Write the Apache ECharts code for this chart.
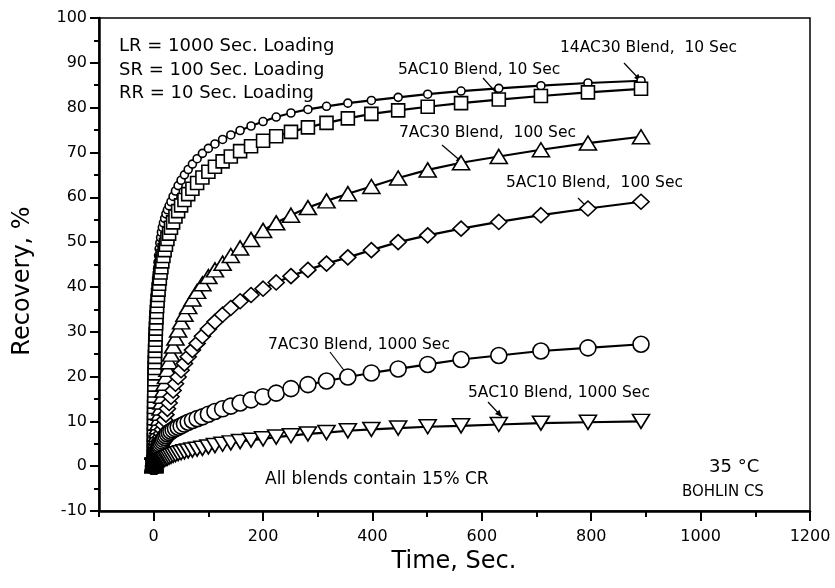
<!DOCTYPE html>
<html>
<head>
<meta charset="utf-8">
<script src="https://cdn.jsdelivr.net/npm/echarts@6/dist/echarts.min.js"></script>
<style>
html,body{margin:0;padding:0;background:#fff;}
#chart{width:835px;height:588px;}
</style>
</head>
<body>
<div id="chart"></div>
<script>
const times = [
  0.251, 0.282, 0.316, 0.355, 0.398, 0.447, 0.501, 0.562, 0.631, 0.708, 0.794, 0.891,
  1, 1.12, 1.26, 1.41, 1.58, 1.78, 2.0, 2.24, 2.51, 2.82,
  3.16, 3.55, 3.98, 4.47, 5.01, 5.62, 6.31, 7.08, 7.94, 8.91,
  10, 11.2, 12.6, 14.1, 15.8, 17.8, 20, 22.4, 25.1, 28.2,
  31.6, 35.5, 39.8, 44.7, 50.1, 56.2, 63.1, 70.8, 79.4, 89.1,
  100, 112, 126, 141, 158, 178, 200, 224, 251, 282,
  316, 355, 398, 447, 501, 562, 631, 708, 794, 891
];
// Recovery, % — 5AC10 Blend, 10 Sec (small circles)
const rr5ac10 = [
  0.5, 2.0, 3.5, 5.0, 6.5, 8.0, 9.5, 11.0, 12.5, 14.0, 15.5, 17.0,
  18.5, 20.0, 21.5, 23.0, 24.5, 26.0, 27.5, 29.0, 30.5, 32.0,
  33.5, 35.0, 36.5, 38.0, 39.5, 41.0, 42.5, 44.0, 45.5, 47.0,
  48.5, 49.8, 51.0, 52.2, 53.3, 54.3, 55.3, 56.3, 57.2, 58.1,
  59.0, 60.2, 61.4, 62.6, 63.8, 65.0, 66.2, 67.4, 68.6, 69.8,
  70.9, 71.9, 72.9, 73.9, 74.9, 75.9, 76.9, 77.9, 78.8, 79.6,
  80.3, 81.0, 81.6, 82.3, 83.0, 83.7, 84.3, 84.9, 85.5, 86.0
];
// 14AC30 Blend, 10 Sec (squares)
const rr14ac30 = [
  1.0, 2.2, 3.4, 4.6, 5.8, 7.0, 8.2, 9.5, 10.7, 11.9, 13.2, 14.4,
  15.7, 16.9, 18.2, 19.4, 20.7, 21.9, 23.2, 24.4, 25.7, 26.9,
  28.2, 29.4, 30.7, 31.9, 33.2, 34.4, 35.7, 36.9, 38.2, 39.4,
  40.7, 41.9, 43.2, 44.4, 45.7, 46.9, 48.2, 49.4, 50.7, 51.9,
  53.2, 54.4, 55.7, 56.9, 58.2, 59.4, 60.7, 61.9, 63.2, 64.4,
  65.7, 66.8, 68.0, 69.1, 70.3, 71.4, 72.6, 73.6, 74.6, 75.6,
  76.6, 77.6, 78.6, 79.4, 80.2, 81.0, 81.8, 82.6, 83.4, 84.2
];
// 7AC30 Blend, 100 Sec (triangles)
const sr7ac30 = [
  0.1, 0.1, 0.2, 0.2, 0.3, 0.3, 0.4, 0.4, 0.5, 0.6, 0.7, 0.8,
  0.9, 1.0, 1.2, 1.4, 1.6, 1.8, 2.1, 2.4, 2.7, 3.1,
  3.5, 4.0, 4.5, 5.1, 5.7, 6.4, 7.1, 7.9, 8.8, 9.7,
  10.7, 11.8, 13.0, 14.3, 15.6, 17.0, 18.5, 20.0, 21.6, 23.3,
  25.0, 26.8, 28.6, 30.4, 32.2, 33.9, 35.6, 37.3, 39.0, 40.7,
  42.3, 43.8, 45.3, 47.0, 48.7, 50.6, 52.6, 54.3, 56.0, 57.7,
  59.2, 60.8, 62.4, 64.3, 66.1, 67.7, 69.1, 70.6, 72.1, 73.5
];
// 5AC10 Blend, 100 Sec (diamonds)
const sr5ac10 = [
  0.0, 0.0, 0.1, 0.1, 0.1, 0.1, 0.2, 0.2, 0.2, 0.2, 0.3, 0.3,
  0.3, 0.4, 0.4, 0.5, 0.6, 0.7, 0.8, 0.9, 1.0, 1.2,
  1.4, 1.6, 1.8, 2.1, 2.4, 2.7, 3.1, 3.5, 4.0, 4.5,
  5.1, 5.8, 6.5, 7.3, 8.2, 9.2, 10.3, 11.5, 12.8, 14.1,
  15.5, 16.9, 18.4, 19.9, 21.4, 22.9, 24.4, 25.9, 27.4, 29.0,
  30.6, 32.2, 33.8, 35.3, 36.8, 38.2, 39.6, 41.0, 42.4, 43.8,
  45.2, 46.6, 48.2, 50.0, 51.5, 53.0, 54.5, 56.0, 57.5, 59.0
];
// 7AC30 Blend, 1000 Sec (large circles)
const lr7ac30 = [
  0.0, 0.0, 0.0, 0.1, 0.1, 0.1, 0.1, 0.1, 0.1, 0.2, 0.2, 0.2,
  0.3, 0.3, 0.4, 0.4, 0.5, 0.6, 0.7, 0.8, 0.9, 1.0,
  1.2, 1.4, 1.6, 1.8, 2.0, 2.3, 2.6, 2.9, 3.2, 3.6,
  4.0, 4.4, 4.8, 5.2, 5.6, 6.0, 6.4, 6.8, 7.2, 7.5,
  7.8, 8.1, 8.4, 8.7, 9.0, 9.4, 9.8, 10.2, 10.6, 11.0,
  11.6, 12.2, 12.8, 13.4, 14.1, 14.8, 15.5, 16.3, 17.3, 18.2,
  19.0, 19.9, 20.8, 21.7, 22.7, 23.8, 24.7, 25.7, 26.4, 27.2
];
// 5AC10 Blend, 1000 Sec (inverted triangles)
const lr5ac10 = [
  0.0, 0.0, 0.0, 0.0, 0.0, 0.1, 0.1, 0.1, 0.1, 0.1, 0.1, 0.1,
  0.2, 0.2, 0.2, 0.2, 0.2, 0.2, 0.2, 0.2, 0.2, 0.3,
  0.3, 0.3, 0.4, 0.4, 0.5, 0.5, 0.6, 0.6, 0.7, 0.8,
  0.9, 1.0, 1.1, 1.2, 1.3, 1.4, 1.5, 1.7, 1.8, 2.0,
  2.2, 2.4, 2.6, 2.8, 3.0, 3.2, 3.4, 3.6, 3.8, 4.0,
  4.3, 4.6, 4.9, 5.2, 5.5, 5.8, 6.1, 6.5, 6.8, 7.2,
  7.5, 7.9, 8.2, 8.5, 8.8, 9.0, 9.3, 9.6, 9.8, 10.0
];
const xMajorTicks = [0, 200, 400, 600, 800, 1000, 1200];
const xMinorTicks = [-100, 100, 300, 500, 700, 900, 1100];

const FONT = 'DejaVu Sans';
function pairs(vals) { return times.map((t, i) => [t, vals[i]]); }
function lineSeries(name, vals, symbol, size) {
  return {
    name: name, type: 'line', data: pairs(vals),
    symbol: symbol, symbolSize: size, showSymbol: true, showAllSymbol: true,
    lineStyle: { color: '#000', width: 2.2 },
    itemStyle: { color: '#fff', borderColor: '#000', borderWidth: 1.6 },
    emphasis: { disabled: true }, silent: true
  };
}
function label(text, x, y, size) {
  return { type: 'text', x: x, y: y, silent: true,
    style: { text: text, fill: '#000', font: size + 'px "' + FONT + '"',
      align: 'left', verticalAlign: 'middle', textAlign: 'left', textVerticalAlign: 'middle' } };
}
function arrow(x1, y1, x2, y2, head) {
  const els = [{ type: 'line', silent: true, shape: { x1: x1, y1: y1, x2: x2, y2: y2 },
    style: { stroke: '#000', lineWidth: 1.2 } }];
  if (head) {
    const a = Math.atan2(y2 - y1, x2 - x1), L = 7, W = 3;
    const bx = x2 - L * Math.cos(a), by = y2 - L * Math.sin(a);
    els.push({ type: 'polygon', silent: true, shape: { points: [[x2, y2],
      [bx + W * Math.sin(a), by - W * Math.cos(a)], [bx - W * Math.sin(a), by + W * Math.cos(a)]] },
      style: { fill: '#000' } });
  }
  return els;
}

const chart = echarts.init(document.getElementById('chart'), null, { renderer: 'canvas' });
const axisFont = { color: '#000', fontSize: 16, fontFamily: FONT };
chart.setOption({
  animation: false,
  backgroundColor: '#fff',
  grid: { left: 99, right: 25, top: 18, bottom: 77, show: true, borderColor: '#000', borderWidth: 1.5, backgroundColor: 'transparent' },
  xAxis: [{
    type: 'value', min: -100, max: 1200, position: 'bottom',
    axisLine: { show: true, onZero: false, lineStyle: { color: '#000', width: 2.5 } },
    axisTick: { show: true, customValues: xMajorTicks, length: 10, lineStyle: { color: '#000', width: 2 } },
    axisLabel: { show: true, customValues: xMajorTicks, margin: 18, formatter: (v) => String(v), ...axisFont },
    splitLine: { show: false }
  }, {
    type: 'value', min: -100, max: 1200, position: 'bottom', offset: 0,
    axisLine: { show: false, onZero: false },
    axisTick: { show: true, customValues: xMinorTicks, length: 6, lineStyle: { color: '#000', width: 2 } },
    axisLabel: { show: false },
    splitLine: { show: false }
  }],
  yAxis: {
    type: 'value', min: -10, max: 100, interval: 10,
    axisLine: { show: true, onZero: false, lineStyle: { color: '#000', width: 2.5 } },
    axisTick: { show: true, length: 9, lineStyle: { color: '#000', width: 2 } },
    minorTick: { show: true, splitNumber: 2, length: 5, lineStyle: { color: '#000', width: 2 } },
    axisLabel: { margin: 12, formatter: (v) => String(v), ...axisFont },
    splitLine: { show: false }, minorSplitLine: { show: false }
  },
  series: [
    lineSeries('5AC10 Blend, 10 Sec', rr5ac10, 'circle', 8),
    lineSeries('14AC30 Blend, 10 Sec', rr14ac30, 'rect', 13),
    lineSeries('7AC30 Blend, 100 Sec', sr7ac30, 'triangle', [17, 14]),
    lineSeries('5AC10 Blend, 100 Sec', sr5ac10, 'diamond', [16, 15]),
    lineSeries('7AC30 Blend, 1000 Sec', lr7ac30, 'circle', 16),
    lineSeries('5AC10 Blend, 1000 Sec', lr5ac10, 'path://M0,0 L10,0 L5,9 Z', [17, 14])
  ],
  graphic: [
    label('LR = 1000 Sec. Loading', 119, 46, 18),
    label('SR = 100 Sec. Loading', 119, 70, 18),
    label('RR = 10 Sec. Loading', 119, 93, 18),
    label('14AC30 Blend,  10 Sec', 560, 48, 15.5),
    label('5AC10 Blend, 10 Sec', 398, 70, 15.5),
    label('7AC30 Blend,  100 Sec', 399, 133, 15.5),
    label('5AC10 Blend,  100 Sec', 506, 183, 15.5),
    label('7AC30 Blend, 1000 Sec', 268, 345, 15.5),
    label('5AC10 Blend, 1000 Sec', 468, 393, 15.5),
    label('All blends contain 15% CR', 265, 480, 17),
    label('35 °C', 709, 467, 18),
    label('BOHLIN CS', 682, 492, 15),
    ...arrow(624, 63, 641, 81, true),
    ...arrow(483, 78, 500, 97, true),
    ...arrow(442, 145, 463, 163, true),
    ...arrow(578, 198, 588, 208, false),
    ...arrow(330, 352, 346, 373, false),
    ...arrow(488, 402, 502, 417, true),
    { type: 'text', x: 454, y: 562, silent: true,
      style: { text: 'Time, Sec.', fill: '#000', font: '24px "' + FONT + '"', align: 'center', verticalAlign: 'middle', textAlign: 'center', textVerticalAlign: 'middle' } },
    { type: 'text', x: 23, y: 281, rotation: Math.PI / 2, silent: true,
      style: { text: 'Recovery, %', fill: '#000', font: '24px "' + FONT + '"', align: 'center', verticalAlign: 'middle', textAlign: 'center', textVerticalAlign: 'middle' } }
  ]
});
</script>
</body>
</html>
